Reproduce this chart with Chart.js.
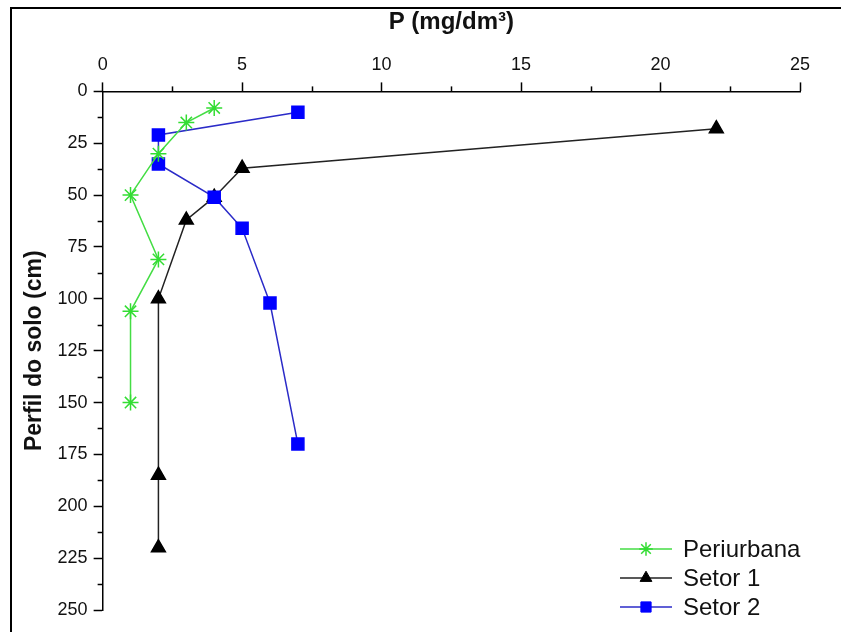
<!DOCTYPE html>
<html>
<head>
<meta charset="utf-8">
<script src="https://cdn.jsdelivr.net/npm/chart.js@4.4.0/dist/chart.umd.min.js"></script>
<style>
    body { margin: 0; background: #fff; }
    #wrap { position: relative; width: 841px; height: 632px; overflow: hidden; }
    #frame { position: absolute; left: 10px; top: 7px; width: 900px; height: 700px;
             border-left: 2px solid #000; border-top: 2px solid #000; }
    #chart { position: absolute; left: 0; top: 0; }
</style>
</head>
<body>
<div id="wrap">
    <div id="frame"></div>
    <canvas id="chart" width="841" height="632"></canvas>
</div>
<script>
// P (mg/dm3) and depth (cm)
const periurbanaP = [4, 3, 2, 1, 2, 1, 1];
const periurbanaDepth = [8, 15, 30, 50, 81, 106, 150];

const setor1P = [22, 5, 4, 3, 2, 2, 2];
const setor1Depth = [18, 37, 51, 62, 100, 185, 220];

const setor2P = [7, 2, 2, 4, 5, 6, 7];
const setor2Depth = [10, 21, 35, 51, 66, 102, 170];

const xTicks = [0, 5, 10, 15, 20, 25];
const yTicks = [0, 25, 50, 75, 100, 125, 150, 175, 200, 225, 250];

const FONT = '"Liberation Sans", Arial, sans-serif';

function toPoints(xs, ys) {
    return xs.map((x, i) => ({ x: x, y: ys[i] }));
}

// short ticks half way between the labelled ones
const minorTicks = {
    id: 'minorTicks',
    afterDraw(chart) {
        const ctx = chart.ctx;
        const xs = chart.scales.x;
        const ys = chart.scales.y;
        ctx.save();
        ctx.strokeStyle = '#000';
        ctx.lineWidth = 1.5;
        for (let i = 0; i < xTicks.length - 1; i++) {
            const px = Math.round(xs.getPixelForValue((xTicks[i] + xTicks[i + 1]) / 2)) + 0.5;
            ctx.beginPath();
            ctx.moveTo(px, xs.bottom);
            ctx.lineTo(px, xs.bottom - 5);
            ctx.stroke();
        }
        for (let i = 0; i < yTicks.length - 1; i++) {
            const py = Math.round(ys.getPixelForValue((yTicks[i] + yTicks[i + 1]) / 2)) + 0.5;
            ctx.beginPath();
            ctx.moveTo(ys.right, py);
            ctx.lineTo(ys.right - 5, py);
            ctx.stroke();
        }
        ctx.restore();
    }
};

// legend with the line running through the marker
const lineLegend = {
    id: 'lineLegend',
    afterDraw(chart) {
        const ctx = chart.ctx;
        const left = 620, lineW = 52, top = 549, rowH = 29;
        ctx.save();
        chart.data.datasets.forEach((ds, i) => {
            const y = top + i * rowH;
            ctx.strokeStyle = ds.borderColor;
            ctx.lineWidth = 1.5;
            ctx.beginPath();
            ctx.moveTo(left, y);
            ctx.lineTo(left + lineW, y);
            ctx.stroke();
            ctx.fillStyle = ds.pointBackgroundColor;
            ctx.strokeStyle = ds.pointBorderColor;
            ctx.lineWidth = ds.pointBorderWidth || 1;
            Chart.helpers.drawPoint(ctx, {
                pointStyle: ds.pointStyle,
                radius: ds.pointRadius * 0.85,
                rotation: 0,
                borderWidth: ds.pointBorderWidth || 1
            }, left + lineW / 2, y);
            ctx.fillStyle = '#111';
            ctx.font = '24px ' + FONT;
            ctx.textBaseline = 'middle';
            ctx.textAlign = 'left';
            ctx.fillText(ds.label, left + lineW + 11, y + 1);
        });
        ctx.restore();
    }
};

new Chart(document.getElementById('chart').getContext('2d'), {
    type: 'line',
    data: {
        datasets: [
            {
                label: 'Periurbana',
                data: toPoints(periurbanaP, periurbanaDepth),
                borderColor: '#44dd44',
                borderWidth: 1.5,
                pointStyle: 'star',
                pointRadius: 8,
                pointBorderColor: '#33dd33',
                pointBackgroundColor: '#33dd33',
                pointBorderWidth: 1.5,
                order: 0
            },
            {
                label: 'Setor 1',
                data: toPoints(setor1P, setor1Depth),
                borderColor: '#222222',
                borderWidth: 1.5,
                pointStyle: 'triangle',
                pointRadius: 8,
                pointBorderColor: '#000',
                pointBackgroundColor: '#000',
                order: 2
            },
            {
                label: 'Setor 2',
                data: toPoints(setor2P, setor2Depth),
                borderColor: '#2b2bc8',
                borderWidth: 1.5,
                pointStyle: 'rect',
                pointRadius: 8.5,
                pointBorderColor: '#0000ff',
                pointBackgroundColor: '#0000ff',
                order: 1
            }
        ]
    },
    options: {
        responsive: false,
        animation: false,
        layout: { padding: { top: 8, left: 21, right: 41, bottom: 22 } },
        plugins: {
            legend: { display: false },
            tooltip: { enabled: false }
        },
        scales: {
            x: {
                type: 'linear',
                position: 'top',
                min: 0,
                max: 25,
                afterBuildTicks(scale) {
                    scale.ticks = xTicks.map(v => ({ value: v }));
                },
                ticks: {
                    color: '#111',
                    padding: 7,
                    font: { family: FONT, size: 18 }
                },
                grid: {
                    drawOnChartArea: false,
                    tickLength: 9,
                    tickColor: '#000',
                    tickWidth: 1.5
                },
                border: { display: true, color: '#000', width: 1.5 },
                title: {
                    display: true,
                    text: 'P (mg/dm³)',
                    color: '#111',
                    padding: { top: 0, bottom: 10 },
                    font: { family: FONT, size: 24, weight: 'bold' }
                }
            },
            y: {
                type: 'linear',
                reverse: true,
                min: 0,
                max: 250,
                afterBuildTicks(scale) {
                    scale.ticks = yTicks.map(v => ({ value: v }));
                },
                ticks: {
                    color: '#111',
                    padding: 6,
                    font: { family: FONT, size: 18 }
                },
                grid: {
                    drawOnChartArea: false,
                    tickLength: 9,
                    tickColor: '#000',
                    tickWidth: 1.5
                },
                border: { display: true, color: '#000', width: 1.5 },
                title: {
                    display: true,
                    text: 'Perfil do solo (cm)',
                    color: '#111',
                    padding: { top: 0, bottom: 3 },
                    font: { family: FONT, size: 23, weight: 'bold' }
                }
            }
        }
    },
    plugins: [minorTicks, lineLegend]
});
</script>
</body>
</html>
